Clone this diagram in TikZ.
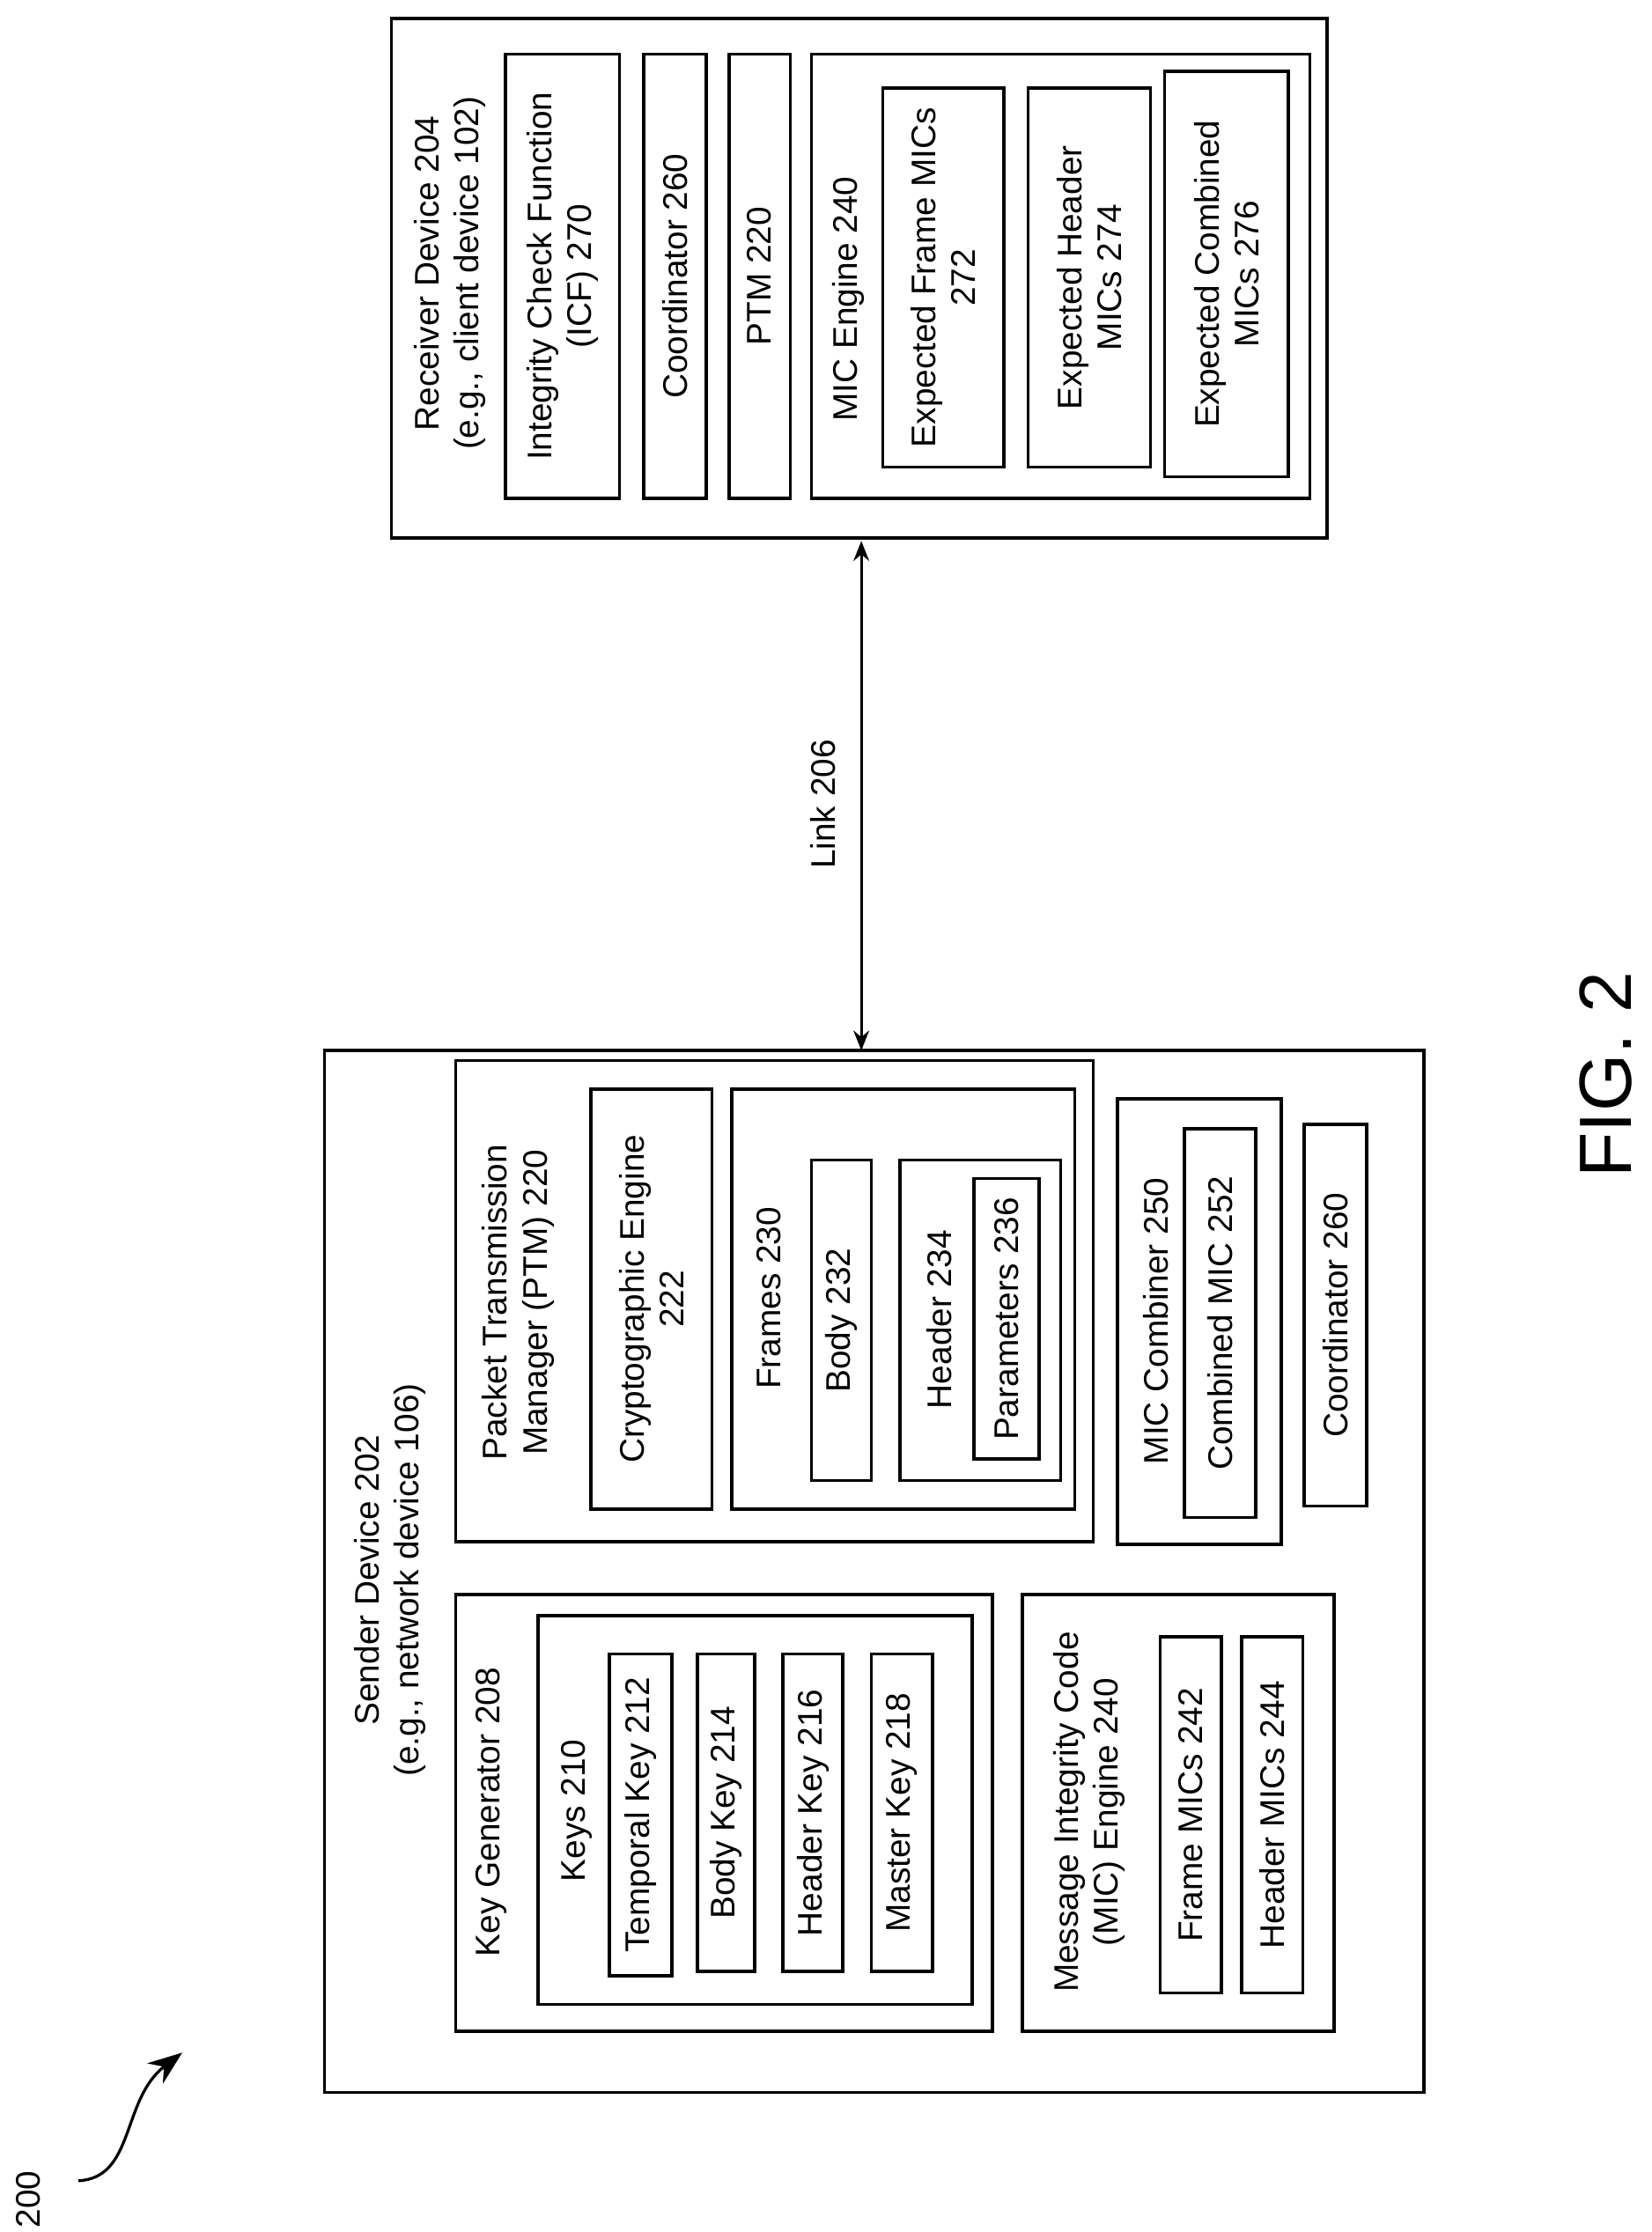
\documentclass[tikz,border=0pt]{standalone}
\usepackage{fontspec}
\setmainfont{Liberation Sans}
\usetikzlibrary{fit,arrows.meta}
\begin{document}
\begin{tikzpicture}[x=1pt,y=-1pt,
 box/.style={draw,line width=2.2pt,inner sep=0pt},
 lab/.style={rotate=90,font=\fontsize{24}{28}\selectfont,align=center,inner sep=0pt}]
\useasboundingbox (0,0) rectangle (1160,1568);
\newcommand\bx[5]{\node[box,fit={(#2,#3)(#4,#5)}] (#1) {};}
% Sender
\bx{send}{228}{738}{1000}{1470}
\node[lab] (sendl) at (274,1110) {Sender Device 202\\(e.g., network device 106)};
\bx{kg}{320}{1120}{697}{1427}
\node[lab] (kgl) at (345,1273) {Key Generator 208};
\bx{keys}{378}{1135}{683}{1408}
\node[lab] (keysl) at (405,1272) {Keys 210};
\bx{tk}{428}{1162}{472}{1388}\node[lab] at (tk) {Temporal Key 212};
\bx{bk}{490}{1162}{530}{1385}\node[lab] at (bk) {Body Key 214};
\bx{hk}{550}{1162}{592}{1385}\node[lab] at (hk) {Header Key 216};
\bx{mk}{612}{1162}{655}{1385}\node[lab] at (mk) {Master Key 218};
\bx{mic}{718}{1120}{937}{1427}
\node[lab] (micl) at (765,1273) {Message Integrity Code\\(MIC) Engine 240};
\bx{fm}{815}{1150}{858}{1400}\node[lab] at (fm) {Frame MICs 242};
\bx{hm}{872}{1150}{915}{1400}\node[lab] at (hm) {Header MICs 244};
\bx{ptm}{320}{745}{768}{1083}
\node[lab] (ptml) at (364,915) {Packet Transmission\\Manager (PTM) 220};
\bx{ce}{415}{765}{500}{1060}
\node[lab] at (ce) {Cryptographic Engine\\222};
\bx{fr}{514}{765}{755}{1060}
\node[lab] (frl) at (540,912) {Frames 230};
\bx{body}{570}{815}{612}{1040}\node[lab] at (body) {Body 232};
\bx{hdr}{632}{815}{745}{1040}
\node[lab] (hdrl) at (660,927) {Header 234};
\bx{par}{684}{828}{730}{1025}\node[lab] at (par) {Parameters 236};
\bx{comb}{785}{772}{900}{1085}
\node[lab] (combl) at (812,928) {MIC Combiner 250};
\bx{cmic}{832}{793}{882}{1066}\node[lab] at (cmic) {Combined MIC 252};
\bx{coord}{916}{790}{960}{1058}\node[lab] at (coord) {Coordinator 260};
% Receiver
\bx{recv}{275}{13}{932}{378}
\node[lab] (recvl) at (316,192) {Receiver Device 204\\(e.g., client device 102)};
\bx{icf}{355}{38}{435}{350}
\node[lab] at (icf) {Integrity Check Function\\(ICF) 270};
\bx{rco}{452}{38}{496}{350}\node[lab] at (rco) {Coordinator 260};
\bx{rptm}{512}{38}{555}{350}\node[lab] at (rptm) {PTM 220};
\bx{rmic}{570}{38}{920}{350}
\node[lab] (rmicl) at (596,210) {MIC Engine 240};
\bx{ef}{620}{62}{705}{328}\node[lab] at (ef) {Expected Frame MICs\\272};
\bx{eh}{722}{62}{808}{328}\node[lab] at (eh) {Expected Header\\MICs 274};
\bx{ec}{818}{50}{905}{335}\node[lab] at (ec) {Expected Combined\\MICs 276};
% link
\coordinate (la) at (605,380);
\coordinate (lb) at (605,738);
\draw[line width=2pt,{Stealth[length=14pt,width=11pt]}-{Stealth[length=14pt,width=11pt]}] (la) -- (lb);
\node[lab] (link) at (578,565) {Link 206};
\node[rotate=90,font=\fontsize{52}{60}\selectfont] (fig) at (1128,755) {FIG. 2};
\node[rotate=90,font=\fontsize{24}{28}\selectfont] (n200) at (20,1545) {200};
\coordinate (c0) at (55,1532);
\coordinate (c1) at (128,1442);
\draw[line width=2pt,-{Stealth[length=24pt,width=18pt]}] (c0) .. controls (95,1530) and (85,1475) .. (c1);
\end{tikzpicture}
\end{document}
